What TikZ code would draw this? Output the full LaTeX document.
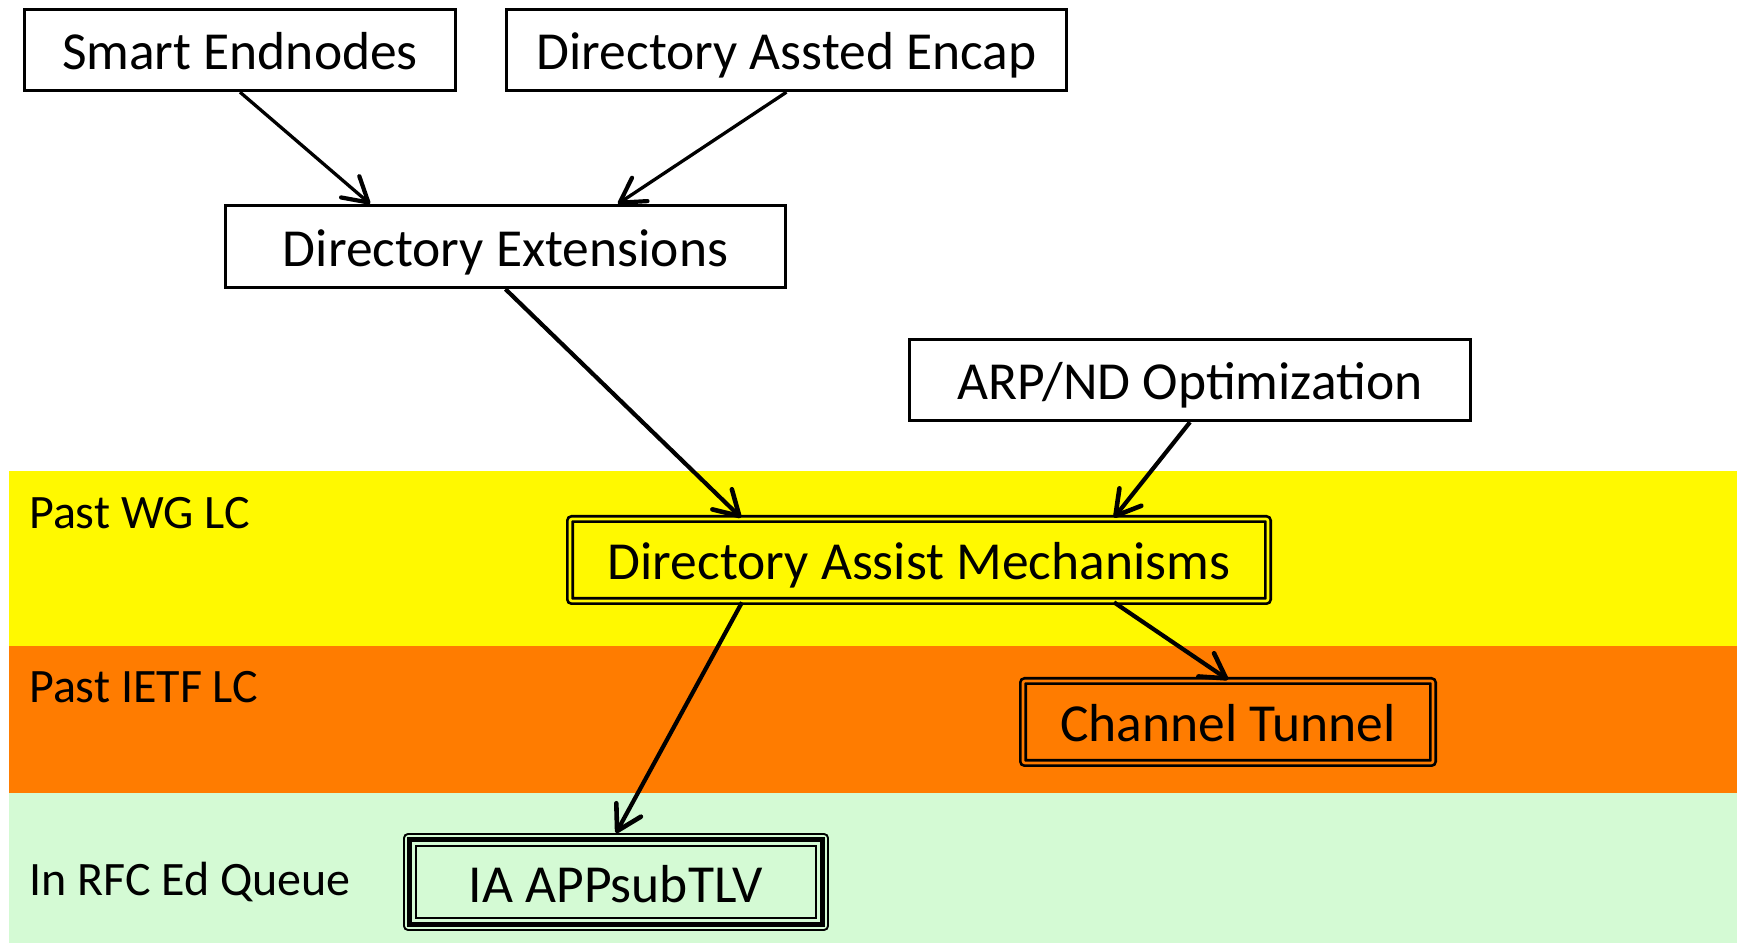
\documentclass[tikz,border=0pt]{standalone}
\usepackage{fontspec}
\setmainfont{Carlito}
\usetikzlibrary{arrows.meta,calc}
\definecolor{bandyellow}{HTML}{FFF900}
\definecolor{bandorange}{HTML}{FF7C00}
\definecolor{bandgreen}{HTML}{D4FAD4}
\begin{document}
\begin{tikzpicture}[x=1pt,y=1pt,
  txt/.style={inner sep=0pt, text height=44pt, text depth=4pt, font=\fontsize{53.5}{64}\selectfont},
  box/.style={txt, draw, line width=3.3pt, rectangle},
  dbox/.style={txt, draw, line width=2.7pt, double distance=2.6pt, rectangle, rounded corners=2pt},
  lbl/.style={anchor=base west, inner sep=0pt, font=\fontsize{48}{58}\selectfont},
  arr/.style={-{Straight Barb[length=24pt,width=28pt,line width=4.2pt,round]}, line width=3.3pt},
  arrb/.style={-{Straight Barb[length=24pt,width=28pt,line width=4.6pt,round]}, line width=4.2pt}]
\useasboundingbox (0,0) rectangle (1741,943);
% bands
\fill[bandyellow] (9,472) rectangle (1737,297);
\fill[bandorange] (9,297) rectangle (1737,150);
\fill[bandgreen] (9,150) rectangle (1737,0);
\node[lbl] (l1) at (29,414) {Past WG LC};
\node[lbl] (l2) at (29,240) {Past IETF LC};
\node[lbl] (l3) at (29,48) {In RFC Ed Queue};
% nodes
\node[box, minimum width=431, minimum height=81] (SE) at (240,893) {Smart Endnodes};
\node[box, minimum width=560, minimum height=81] (DAE) at (786.5,893) {Directory Assted Encap};
\node[box, minimum width=560, minimum height=82] (DE) at (505.5,696.5) {Directory Extensions};
\node[box, minimum width=561, minimum height=81] (ARP) at (1190,563) {ARP/ND Optimization};
\node[dbox, double=bandyellow, minimum width=698, minimum height=82] (DAM) at (919,383) {Directory Assist Mechanisms};
\node[dbox, double=bandorange, minimum width=410, minimum height=82] (CT) at (1228,221) {Channel Tunnel};
\node[txt, draw, line width=1.9pt, rounded corners=4pt, minimum width=424, minimum height=96] (IA) at (616,61) {IA APPsubTLV};
\draw[line width=5.5pt] ($(IA.south west)+(6.5,6.5)$) rectangle ($(IA.north east)+(-6.5,-6.5)$);
\draw[line width=1.9pt] ($(IA.south west)+(13,13)$) rectangle ($(IA.north east)+(-13,-13)$);
% connectors
\draw[arr] (SE.south) -- ([xshift=-135.5pt]DE.north);
\draw[arr] (DAE.south) -- ([xshift=112.5pt]DE.north);
\draw[arrb] (DE.south) -- ([xshift=-178pt]DAM.north);
\draw[arrb] (ARP.south) -- ([xshift=195pt]DAM.north);
\draw[arrb] ([xshift=-177pt]DAM.south) -- (IA.north);
\draw[arrb] ([xshift=195pt]DAM.south) -- (CT.north);
\end{tikzpicture}
\end{document}
